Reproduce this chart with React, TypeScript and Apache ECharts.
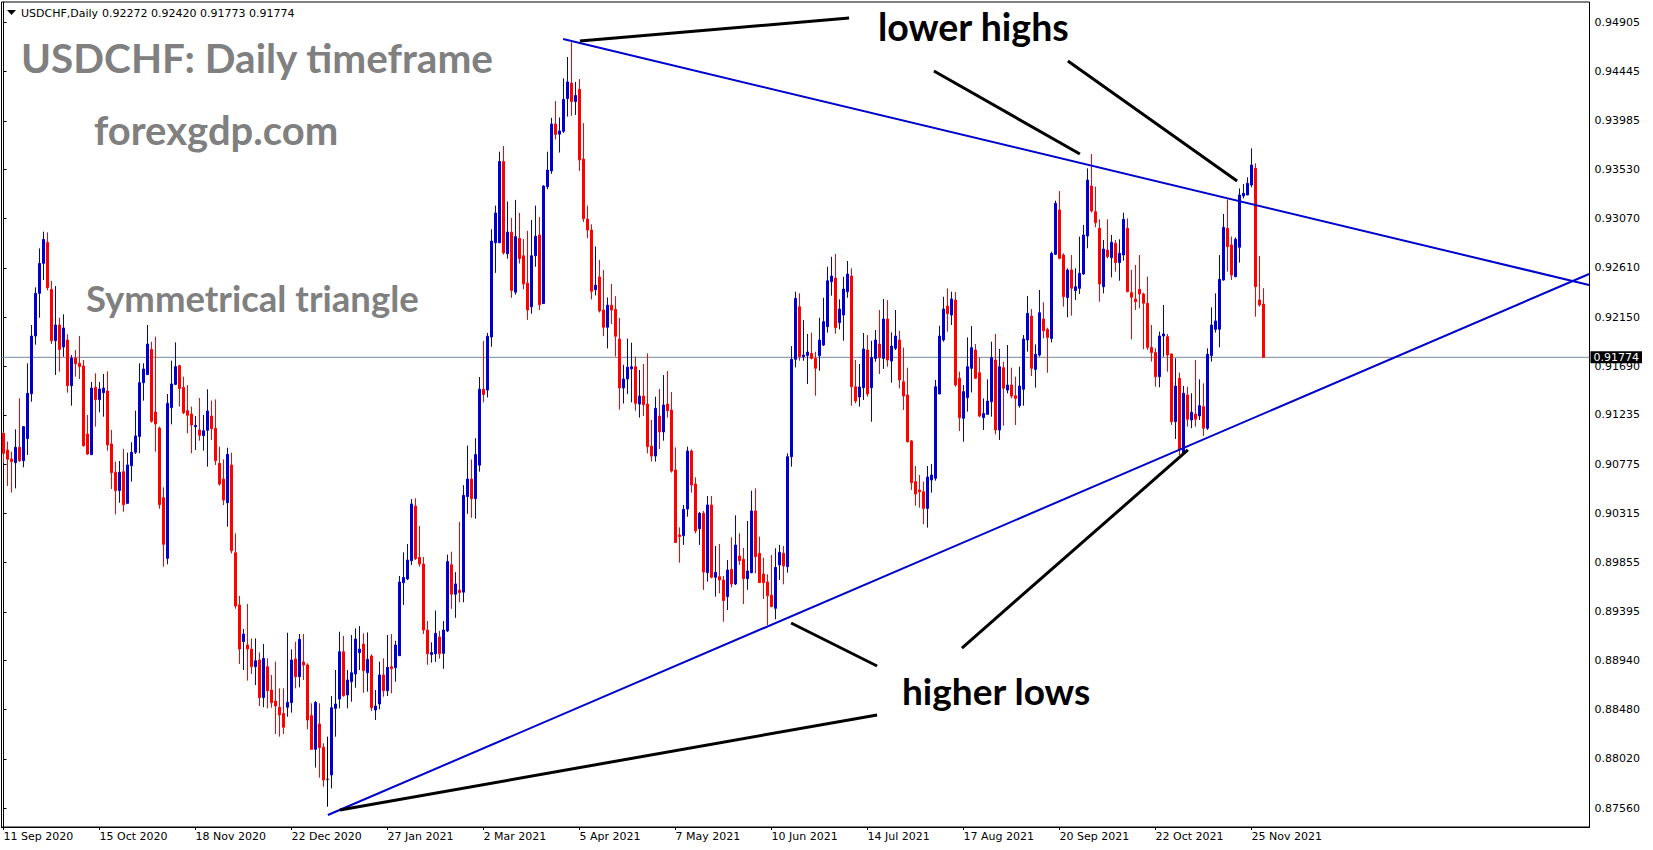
import React, { useEffect, useRef } from "react";
import * as echarts from "echarts";

const symbolName = "USDCHF";
const timeframeName = "Daily";
const titleText = "USDCHF: Daily timeframe";
const siteText = "forexgdp.com";
const patternText = "Symmetrical triangle";
const lowerHighsText = "lower highs";
const higherLowsText = "higher lows";

const dateLabels = [
  "11 Sep 2020", "15 Oct 2020", "18 Nov 2020", "22 Dec 2020", "27 Jan 2021",
  "2 Mar 2021", "5 Apr 2021", "7 May 2021", "10 Jun 2021", "14 Jul 2021",
  "17 Aug 2021", "20 Sep 2021", "22 Oct 2021", "25 Nov 2021",
];
const dateLabelStep = 24;
const slotCount = 397; // bars + empty chart shift on the right

const priceTicks = [
  0.94905, 0.94445, 0.93985, 0.9353, 0.9307, 0.9261, 0.9215, 0.9169, 0.91235,
  0.90775, 0.90315, 0.89855, 0.89395, 0.8894, 0.8848, 0.8802, 0.8756,
];

const opens = [
  0.91064,0.90908,0.90824,0.90789,0.90933,0.90808,0.91014,0.91434,0.91973,0.92372,
  0.92652,0.92848,0.92409,0.91929,0.92076,0.91870,0.91936,0.91509,0.91767,0.91718,
  0.91693,0.91057,0.90864,0.91493,0.91378,0.91443,0.91459,0.90964,0.90699,0.90528,
  0.90705,0.90409,0.90761,0.90886,0.91033,0.91537,0.91612,0.91848,0.91263,0.91113,
  0.90462,0.89895,0.91303,0.91521,0.91696,0.91493,0.91275,0.91244,0.91126,0.91095,
  0.91042,0.91092,0.91225,0.91110,0.90783,0.90636,0.90415,0.90767,0.89948,0.89459,
  0.89116,0.89085,0.89047,0.88882,0.88945,0.88593,0.88882,0.88664,0.88561,0.88503,
  0.88446,0.88503,0.88546,0.88954,0.88789,0.88926,0.88898,0.88425,0.88110,0.88347,
  0.88129,0.87830,0.87870,0.88493,0.88580,0.89022,0.88618,0.88742,0.88814,0.89013,
  0.89094,0.88826,0.88982,0.88478,0.88534,0.88805,0.88658,0.88882,0.88873,0.88985,
  0.89667,0.89702,0.89873,0.90384,0.89904,0.89842,0.89225,0.88996,0.89003,0.89160,
  0.89007,0.89217,0.89835,0.89560,0.89598,0.89579,0.90472,0.90636,0.90453,0.90766,
  0.91476,0.91468,0.91964,0.92845,0.92845,0.93604,0.92742,0.92944,0.92383,0.92887,
  0.92723,0.92467,0.92246,0.92723,0.92917,0.92277,0.93368,0.93516,0.93955,0.93860,
  0.93886,0.94192,0.94337,0.94165,0.94279,0.93627,0.93066,0.92963,0.92406,0.92525,
  0.92216,0.92055,0.92261,0.92223,0.91945,0.91487,0.91571,0.91666,0.91686,0.91337,
  0.91412,0.91337,0.90945,0.90851,0.91225,0.91076,0.91337,0.91281,0.90721,0.90113,
  0.90107,0.90356,0.90898,0.90590,0.90172,0.90316,0.89761,0.90394,0.89718,0.89724,
  0.89693,0.89537,0.89792,0.89655,0.89917,0.89886,0.89705,0.89761,0.90338,0.89942,
  0.89749,0.89674,0.89550,0.89428,0.89833,0.89942,0.89817,0.90845,0.91755,0.92247,
  0.91780,0.91792,0.91811,0.91764,0.91789,0.91889,0.92060,0.92481,0.92515,0.92097,
  0.92169,0.92387,0.92534,0.91499,0.91403,0.91490,0.91842,0.91490,0.91764,0.91898,
  0.91764,0.92132,0.91739,0.91858,0.91936,0.91546,0.91422,0.90992,0.90612,0.90534,
  0.90518,0.90362,0.90627,0.90643,0.91431,0.91936,0.92253,0.92169,0.92309,0.91579,
  0.91204,0.91397,0.91671,0.91842,0.91630,0.91210,0.91241,0.91359,0.91749,0.91095,
  0.91677,0.91468,0.91515,0.91415,0.91322,0.91475,0.91936,0.92160,0.91661,0.91795,
  0.92132,0.92035,0.91951,0.92737,0.93151,0.92730,0.92332,0.92590,0.92397,0.92419,
  0.92553,0.92908,0.93375,0.93135,0.92980,0.92434,0.92777,0.92705,0.92839,0.92659,
  0.92730,0.92980,0.92378,0.92319,0.92410,0.92366,0.92279,0.91867,0.91818,0.91593,
  0.91973,0.91967,0.91805,0.91173,0.91578,0.90877,0.91422,0.91188,0.91244,0.91226,
  0.91313,0.91111,0.91790,0.92036,0.92036,0.92497,0.92980,0.92824,0.92528,0.92802,
  0.93282,0.93291,0.93384,0.93540,0.92310,0.92272,
];

const closes = [
  0.90877,0.90821,0.90799,0.90933,0.90808,0.91126,0.91437,0.91973,0.92372,0.92652,
  0.92876,0.92425,0.91929,0.92076,0.91848,0.92048,0.91509,0.91767,0.91714,0.91687,
  0.90948,0.90870,0.91487,0.91378,0.91478,0.91487,0.90955,0.90696,0.90528,0.90699,
  0.90397,0.90768,0.90886,0.91039,0.91537,0.91665,0.91898,0.91176,0.91151,0.90397,
  0.90026,0.91344,0.91525,0.91687,0.91481,0.91257,0.91232,0.91141,0.91138,0.91045,
  0.91088,0.91272,0.91107,0.90807,0.90589,0.90440,0.90867,0.89966,0.89449,0.89047,
  0.89188,0.89047,0.88882,0.88938,0.88593,0.88960,0.88658,0.88546,0.88515,0.88431,
  0.88316,0.88549,0.88945,0.88789,0.89138,0.88898,0.88384,0.88110,0.88549,0.88126,
  0.87823,0.87830,0.88499,0.88534,0.89022,0.88611,0.88758,0.88826,0.89141,0.89047,
  0.88845,0.88951,0.88499,0.88515,0.88805,0.88658,0.88876,0.88864,0.89085,0.89674,
  0.89717,0.89879,0.90403,0.89892,0.89842,0.89225,0.89003,0.89015,0.89194,0.89003,
  0.89225,0.89865,0.89560,0.89656,0.89575,0.90484,0.90636,0.90453,0.90865,0.91476,
  0.91426,0.91971,0.92860,0.93123,0.93604,0.92750,0.92944,0.92399,0.92902,0.92696,
  0.92460,0.92216,0.92723,0.92906,0.92265,0.93375,0.93524,0.93955,0.93856,0.93890,
  0.94184,0.94348,0.94165,0.94222,0.93619,0.93070,0.92963,0.92391,0.92448,0.92208,
  0.92055,0.92261,0.92216,0.91971,0.91487,0.91571,0.91682,0.91685,0.91344,0.91412,
  0.91331,0.90939,0.90851,0.91297,0.91076,0.91328,0.91275,0.90711,0.90042,0.90098,
  0.90353,0.90898,0.90580,0.90151,0.90316,0.89767,0.90394,0.89718,0.89764,0.89693,
  0.89500,0.89786,0.89655,0.90020,0.89873,0.89705,0.89777,0.90338,0.89911,0.89668,
  0.89668,0.89546,0.89444,0.89811,0.89951,0.89824,0.90845,0.91755,0.92325,0.91780,
  0.91795,0.91823,0.91764,0.91671,0.91936,0.92107,0.92490,0.92534,0.92051,0.92225,
  0.92412,0.92552,0.91499,0.91365,0.91496,0.91852,0.91431,0.91771,0.91936,0.91771,
  0.92132,0.91749,0.91879,0.91973,0.91562,0.91412,0.90985,0.90602,0.90496,0.90518,
  0.90362,0.90655,0.90674,0.91499,0.91973,0.92225,0.92182,0.92319,0.91515,0.91210,
  0.91453,0.91686,0.91864,0.91579,0.91225,0.91250,0.91365,0.91771,0.91095,0.91686,
  0.91484,0.91515,0.91412,0.91390,0.91506,0.91945,0.92185,0.91671,0.91802,0.92191,
  0.92023,0.91960,0.92745,0.93213,0.92699,0.92341,0.92590,0.92419,0.92434,0.92559,
  0.92917,0.93431,0.93142,0.93032,0.92459,0.92786,0.92715,0.92849,0.92659,0.92746,
  0.93064,0.92388,0.92335,0.92294,0.92366,0.92279,0.91867,0.91818,0.91593,0.91973,
  0.91992,0.91796,0.91173,0.91506,0.90908,0.91438,0.91195,0.91260,0.91195,0.91322,
  0.91111,0.91802,0.92076,0.92114,0.92503,0.92989,0.92808,0.92543,0.92877,0.93291,
  0.93307,0.93400,0.93571,0.92434,0.92263,0.91774,
];

const lows = [
  0.90783,0.90571,0.90509,0.90549,0.90796,0.90746,0.90861,0.91359,0.91892,0.92144,
  0.92496,0.92400,0.91898,0.91609,0.91640,0.91780,0.91443,0.91322,0.91593,0.91571,
  0.90939,0.90861,0.90864,0.91126,0.91260,0.91219,0.90902,0.90543,0.90306,0.90415,
  0.90331,0.90403,0.90612,0.90870,0.90877,0.91369,0.91612,0.91163,0.90892,0.90359,
  0.89818,0.89839,0.91148,0.91515,0.91313,0.91244,0.91064,0.90877,0.90908,0.90995,
  0.90902,0.90752,0.91001,0.90767,0.90574,0.90393,0.90191,0.89941,0.89424,0.88907,
  0.88851,0.88752,0.88814,0.88711,0.88515,0.88503,0.88493,0.88499,0.88253,0.88228,
  0.88253,0.88415,0.88453,0.88680,0.88689,0.88758,0.88297,0.88110,0.87939,0.87845,
  0.87761,0.87574,0.87745,0.88228,0.88493,0.88602,0.88493,0.88555,0.88686,0.88851,
  0.88639,0.88649,0.88468,0.88384,0.88484,0.88602,0.88608,0.88633,0.88742,0.88985,
  0.89459,0.89692,0.89832,0.89879,0.89817,0.89188,0.88900,0.88920,0.88927,0.88958,
  0.88862,0.89206,0.89423,0.89339,0.89484,0.89484,0.90312,0.90274,0.90266,0.90705,
  0.91353,0.91399,0.91872,0.92563,0.92845,0.92734,0.92696,0.92330,0.92361,0.92650,
  0.92410,0.92124,0.92181,0.92620,0.92216,0.92277,0.93345,0.93489,0.93810,0.93688,
  0.93871,0.94024,0.94031,0.94039,0.93516,0.93039,0.92887,0.92315,0.92353,0.92193,
  0.91971,0.91857,0.92086,0.91781,0.91285,0.91342,0.91430,0.91353,0.91275,0.91210,
  0.91225,0.90876,0.90799,0.90799,0.90917,0.90995,0.91210,0.90696,0.90042,0.89855,
  0.90020,0.90285,0.90509,0.90129,0.90020,0.89600,0.89677,0.89708,0.89537,0.89568,
  0.89303,0.89412,0.89624,0.89646,0.89833,0.89468,0.89600,0.89755,0.89755,0.89668,
  0.89515,0.89272,0.89437,0.89325,0.89693,0.89652,0.89761,0.90752,0.91680,0.91742,
  0.91742,0.91524,0.91755,0.91415,0.91649,0.91879,0.92004,0.92350,0.91995,0.92035,
  0.91929,0.92331,0.91322,0.91344,0.91313,0.91375,0.91406,0.91172,0.91733,0.91618,
  0.91665,0.91686,0.91537,0.91842,0.91484,0.91281,0.90979,0.90534,0.90387,0.90369,
  0.90213,0.90182,0.90509,0.90621,0.91431,0.91920,0.92013,0.92076,0.91499,0.91085,
  0.90985,0.91266,0.91446,0.91571,0.91213,0.91095,0.91235,0.91219,0.91054,0.91001,
  0.91135,0.91437,0.91390,0.91141,0.91303,0.91322,0.91827,0.91599,0.91490,0.91780,
  0.91951,0.91630,0.91914,0.92730,0.92690,0.92248,0.92148,0.92163,0.92310,0.92366,
  0.92543,0.92793,0.93126,0.92989,0.92294,0.92372,0.92699,0.92522,0.92575,0.92490,
  0.92677,0.92381,0.91942,0.92216,0.92232,0.91849,0.91843,0.91734,0.91500,0.91494,
  0.91780,0.91640,0.91142,0.91011,0.90861,0.90861,0.91126,0.91111,0.91126,0.91188,
  0.91039,0.91095,0.91734,0.92005,0.91867,0.92490,0.92575,0.92497,0.92522,0.92659,
  0.93260,0.93291,0.93363,0.92154,0.92248,0.91773,
];

const highs = [
  0.91079,0.90986,0.90892,0.91101,0.91391,0.91132,0.91718,0.92076,0.92428,0.92792,
  0.92948,0.92942,0.92487,0.92440,0.92144,0.92176,0.91989,0.91795,0.91842,0.91973,
  0.91749,0.91235,0.91543,0.91624,0.91543,0.91618,0.91643,0.91095,0.90799,0.90805,
  0.90917,0.90883,0.90980,0.91275,0.91718,0.91718,0.92076,0.91920,0.91967,0.91126,
  0.90559,0.91431,0.91743,0.91914,0.91705,0.91593,0.91515,0.91313,0.91225,0.91394,
  0.91235,0.91475,0.91369,0.91381,0.90938,0.90820,0.90929,0.90882,0.90128,0.89543,
  0.89234,0.89468,0.89147,0.89147,0.89016,0.89094,0.88960,0.88805,0.88929,0.88680,
  0.88680,0.89200,0.89044,0.89116,0.89188,0.89188,0.88913,0.88540,0.88561,0.88540,
  0.88166,0.88228,0.88608,0.88851,0.89209,0.89169,0.88851,0.89178,0.89240,0.89262,
  0.89194,0.89203,0.88998,0.88664,0.88929,0.88960,0.89178,0.89188,0.89125,0.89730,
  0.89951,0.90029,0.90449,0.90456,0.90197,0.89907,0.89309,0.89110,0.89408,0.89217,
  0.89309,0.89930,0.89957,0.89766,0.90236,0.90579,0.90949,0.90819,0.91018,0.91590,
  0.91926,0.92002,0.92971,0.93192,0.93696,0.93749,0.93230,0.93077,0.93245,0.93123,
  0.92879,0.92956,0.93059,0.93192,0.93085,0.93383,0.93696,0.94012,0.94169,0.94016,
  0.94382,0.94581,0.94718,0.94348,0.94375,0.93963,0.93192,0.93017,0.92811,0.92685,
  0.92589,0.92334,0.92460,0.92345,0.92143,0.91704,0.91949,0.91910,0.91780,0.91655,
  0.91711,0.91811,0.91188,0.91406,0.91478,0.91608,0.91646,0.91450,0.90932,0.90185,
  0.90394,0.90939,0.90914,0.90652,0.90328,0.90338,0.90478,0.90478,0.90010,0.90029,
  0.89730,0.89880,0.90091,0.90297,0.90129,0.89992,0.90244,0.90527,0.90549,0.90098,
  0.89901,0.89746,0.89926,0.89989,0.90020,0.90010,0.90876,0.91879,0.92387,0.92372,
  0.92122,0.91992,0.92004,0.91826,0.92144,0.92331,0.92621,0.92714,0.92739,0.92316,
  0.92527,0.92674,0.92605,0.91749,0.91711,0.92001,0.91982,0.91929,0.92029,0.92216,
  0.92319,0.92309,0.92007,0.92216,0.92023,0.91864,0.91677,0.91001,0.90758,0.90674,
  0.90612,0.90758,0.90777,0.91562,0.92069,0.92340,0.92418,0.92387,0.92384,0.91640,
  0.91515,0.91960,0.92066,0.91898,0.91774,0.91390,0.91568,0.91920,0.91992,0.91852,
  0.91733,0.91889,0.91677,0.91593,0.91686,0.91982,0.92347,0.92225,0.91895,0.92403,
  0.92288,0.92051,0.92761,0.93238,0.93328,0.92746,0.92606,0.92730,0.92606,0.92902,
  0.93011,0.93540,0.93674,0.93369,0.93064,0.92871,0.93064,0.92917,0.92871,0.92877,
  0.93126,0.93073,0.92590,0.92637,0.92730,0.92378,0.92528,0.92076,0.91858,0.92014,
  0.92263,0.91992,0.91811,0.91765,0.91631,0.91506,0.91500,0.91438,0.91749,0.91568,
  0.91531,0.91858,0.92241,0.92372,0.92730,0.93113,0.93250,0.92902,0.92895,0.93353,
  0.93394,0.93456,0.93727,0.93587,0.92721,0.92420,
];

// Trend lines and pointer lines, as [bar index, price] pairs
const upperTrendLine = [[139.9, 0.94749], [396.4, 0.9245]];
const lowerTrendLine = [[81.1, 0.87496], [396.4, 0.92553]];
const lowerHighsPointers = [
  [[144.1, 0.9473], [211.4, 0.94945]],
  [[232.6, 0.9445], [269.1, 0.93674]],
  [[266.1, 0.94543], [308.4, 0.93422]],
];
const higherLowsPointers = [
  [[196.9, 0.89291], [218.4, 0.88889]],
  [[239.6, 0.89057], [296.1, 0.90908]],
  [[84.1, 0.87543], [218.4, 0.88431]],
];

const BULL = "#0000cd";
const BEAR = "#ff0000";
const TREND = "#0000cd";
const AXIS_FONT = "DejaVu Sans";

export default function App() {
  const ref = useRef<HTMLDivElement | null>(null);

  useEffect(() => {
    if (!ref.current) return;
    const chart = echarts.init(ref.current, null, { renderer: "svg" });

    const last = opens.length - 1;
    const lastPrice = closes[last];
    const categories = Array.from({ length: slotCount }, (_, i) => String(i));
    const dojiStyle = {
      color: "#000000",
      color0: "#000000",
      borderColor: "#000000",
      borderColor0: "#000000",
    };
    const candleData = opens.map((o, i) => {
      const v = [o, closes[i], lows[i], highs[i]];
      return o === closes[i] ? { value: v, itemStyle: dojiStyle } : v;
    });

    const showDateAt = (index: number) =>
      index % dateLabelStep === 0 && index / dateLabelStep < dateLabels.length;

    const lineSeries = (data: number[][], color: string, width: number, z = 4) => ({
      type: "line",
      xAxisIndex: 1,
      yAxisIndex: 0,
      data,
      symbol: "none",
      silent: true,
      lineStyle: { color, width, cap: "butt" },
      z,
    });

    const option: any = {
      animation: false,
      backgroundColor: "#ffffff",
      grid: {
        left: 1.5,
        right: 63.5,
        top: 2,
        bottom: 23,
        show: true,
        borderColor: "#000000",
        borderWidth: 1,
        backgroundColor: "#ffffff",
      },
      xAxis: [
        {
          type: "category",
          data: categories,
          boundaryGap: true,
          axisLine: { show: true, lineStyle: { color: "#000000", width: 1 } },
          axisTick: {
            show: true,
            alignWithLabel: true,
            length: 3,
            interval: (index: number) => showDateAt(index),
            lineStyle: { color: "#000000" },
          },
          axisLabel: {
            show: true,
            interval: (index: number) => showDateAt(index),
            formatter: (_v: string, index: number) =>
              showDateAt(index) ? dateLabels[index / dateLabelStep] : "",
            align: "left",
            margin: 4,
            color: "#000000",
            fontFamily: AXIS_FONT,
            fontSize: 11,
          },
          splitLine: { show: false },
        },
        {
          type: "value",
          min: -0.5,
          max: slotCount - 0.5,
          show: false,
          splitLine: { show: false },
        },
      ],
      yAxis: {
        type: "value",
        position: "right",
        min: 0.87384,
        max: 0.95095,
        scale: true,
        axisLine: { show: true, lineStyle: { color: "#000000", width: 1 } },
        axisTick: {
          show: true,
          length: 3,
          customValues: priceTicks,
          lineStyle: { color: "#000000" },
        },
        axisLabel: {
          customValues: priceTicks,
          formatter: (v: number) => v.toFixed(5),
          color: "#000000",
          fontFamily: AXIS_FONT,
          fontSize: 11,
          margin: 5,
        },
        splitLine: { show: false },
      },
      series: [
        {
          type: "line",
          xAxisIndex: 1,
          yAxisIndex: 0,
          data: [
            [-0.5, lastPrice],
            [slotCount - 0.5, lastPrice],
          ],
          symbol: "none",
          silent: true,
          clip: false,
          lineStyle: { color: "#778899", width: 1 },
          endLabel: {
            show: true,
            distance: 1,
            formatter: () => lastPrice.toFixed(5),
            backgroundColor: "#000000",
            color: "#ffffff",
            fontFamily: AXIS_FONT,
            fontSize: 11,
            padding: [1, 3, 0, 3],
          },
          z: 1,
        },
        {
          type: "candlestick",
          xAxisIndex: 0,
          yAxisIndex: 0,
          data: candleData,
          barWidth: 2,
          itemStyle: {
            color: BULL,
            color0: BEAR,
            borderColor: BULL,
            borderColor0: BEAR,
            borderWidth: 1,
          },
          z: 3,
        },
        lineSeries(upperTrendLine, TREND, 2),
        lineSeries(lowerTrendLine, TREND, 2),
        ...lowerHighsPointers.map((d) => lineSeries(d, "#000000", 3)),
        ...higherLowsPointers.map((d) => lineSeries(d, "#000000", 3)),
      ],
      graphic: [
        {
          type: "polygon",
          shape: { points: [[7, 10], [16, 10], [11.5, 15]] },
          style: { fill: "#000000" },
          silent: true,
        },
        {
          type: "text",
          x: 21,
          y: 13,
          style: {
            text: `${symbolName},${timeframeName}`,
            fill: "#000000",
            font: `11px "${AXIS_FONT}"`,
            align: "left",
            verticalAlign: "middle",
          },
          silent: true,
        },
        {
          type: "text",
          x: 102,
          y: 13,
          style: {
            text: [opens[last], highs[last], lows[last], closes[last]]
              .map((v) => v.toFixed(5))
              .join(" "),
            fill: "#000000",
            font: `11px "${AXIS_FONT}"`,
            align: "left",
            verticalAlign: "middle",
          },
          silent: true,
        },
        {
          type: "text",
          x: 21,
          y: 57,
          style: {
            text: titleText,
            fill: "#808080",
            font: "bold 40.5px Lato",
            align: "left",
            verticalAlign: "middle",
          },
          silent: true,
        },
        {
          type: "text",
          x: 94,
          y: 130,
          style: {
            text: siteText,
            fill: "#808080",
            font: "bold 40px Lato",
            align: "left",
            verticalAlign: "middle",
          },
          silent: true,
        },
        {
          type: "text",
          x: 86,
          y: 298,
          style: {
            text: patternText,
            fill: "#808080",
            font: "bold 36.5px Lato",
            align: "left",
            verticalAlign: "middle",
          },
          silent: true,
        },
        {
          type: "text",
          x: 878,
          y: 26,
          style: {
            text: lowerHighsText,
            fill: "#000000",
            font: "bold 37.5px Lato",
            align: "left",
            verticalAlign: "middle",
          },
          silent: true,
        },
        {
          type: "text",
          x: 902,
          y: 690,
          style: {
            text: higherLowsText,
            fill: "#000000",
            font: "bold 37px Lato",
            align: "left",
            verticalAlign: "middle",
          },
          silent: true,
        },
      ],
    };

    chart.setOption(option);
    return () => {
      chart.dispose();
    };
  }, []);

  return (
    <div
      ref={ref}
      style={{
        position: "fixed",
        left: 0,
        top: 0,
        width: 1653,
        height: 850,
        background: "#ffffff",
      }}
    />
  );
}
